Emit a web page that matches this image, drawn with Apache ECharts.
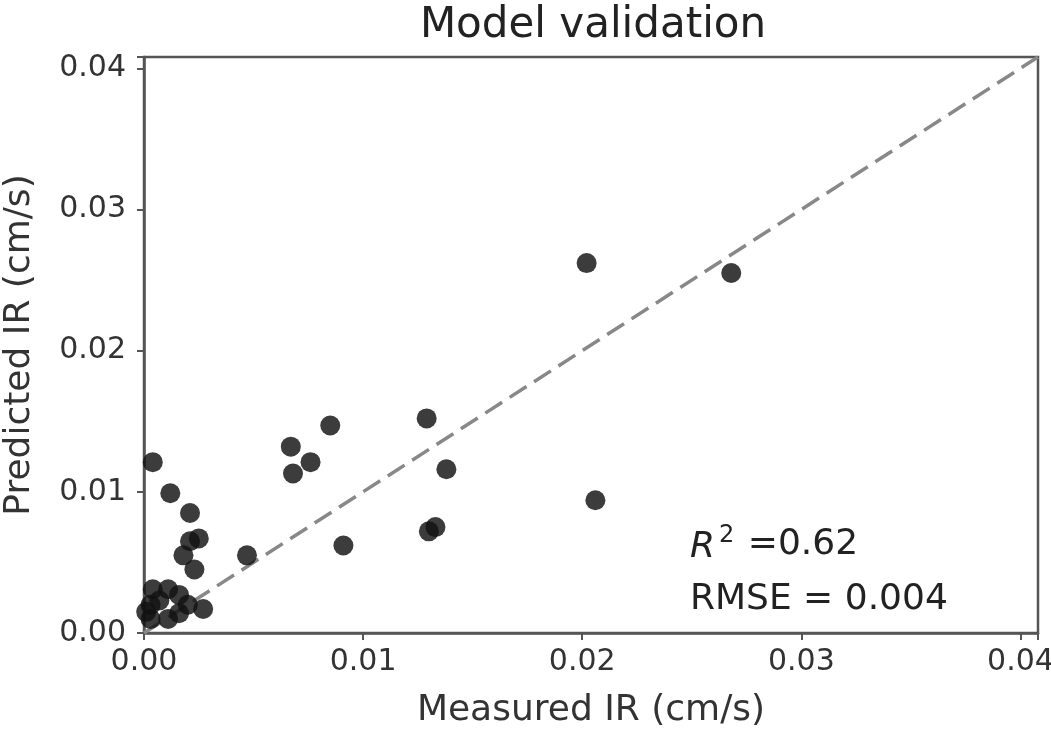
<!DOCTYPE html>
<html>
<head>
<meta charset="utf-8">
<script src="https://cdn.jsdelivr.net/npm/echarts@6/dist/echarts.min.js"></script>
<style>html,body{margin:0;padding:0;background:#fff;}#c{width:1051px;height:736px;}</style>
</head>
<body>
<div id="c"></div>
<script>
const measured = [0.0202, 0.0268, 0.0206, 0.0129, 0.0085, 0.0067, 0.0068, 0.0076, 0.0138, 0.0133, 0.0130, 0.0091, 0.0047,
  0.0004, 0.0012, 0.0021, 0.0025, 0.0021, 0.0018, 0.0023,
  0.0004, 0.0011, 0.0016, 0.0003, 0.0007, 0.0020, 0.0027, 0.0003, 0.0011, 0.0016, 0.0001];
const predicted = [0.0262, 0.0255, 0.0094, 0.0152, 0.0147, 0.0132, 0.0113, 0.0121, 0.0116, 0.0075, 0.0072, 0.0062, 0.0055,
  0.0121, 0.0099, 0.0085, 0.0067, 0.0065, 0.0055, 0.0045,
  0.0031, 0.0031, 0.0027, 0.0020, 0.0023, 0.0020, 0.0017, 0.0010, 0.0010, 0.0014, 0.0015];
const refLine = [[0, 0], [0.0408, 0.0408]];
const axisMin = 0, axisMax = 0.0408, tickStep = 0.01;
const statsR2 = '0.62', statsRMSE = '0.004';

const points = measured.map((m, i) => [m, predicted[i]]);
const font = 'DejaVu Sans';
const tickFmt = v => {
  const k = Math.round(v / tickStep);
  return Math.abs(v - k * tickStep) < 1e-9 ? v.toFixed(2) : '';
};
const axisCommon = {
  type: 'value', min: axisMin, max: axisMax, interval: tickStep,
  splitLine: {show: false},
  axisLine: {show: true, lineStyle: {color: '#555', width: 2.5}},
  axisTick: {show: true, length: 7, lineStyle: {color: '#555', width: 2}},
  axisLabel: {formatter: tickFmt, fontFamily: font, fontSize: 30, color: '#333', margin: 14},
  nameTextStyle: {fontFamily: font, fontSize: 36, color: '#333'},
  nameLocation: 'middle'
};
const chart = echarts.init(document.getElementById('c'));
chart.setOption({
  animation: false,
  backgroundColor: '#fff',
  title: {text: 'Model validation', left: 588, top: 0, textAlign: 'center',
    textStyle: {fontFamily: font, fontSize: 42, fontWeight: 'normal', color: '#222'}},
  grid: {left: 144, right: 13, top: 57, bottom: 103, show: true, borderColor: '#555', borderWidth: 2.5,
    containLabel: false, outerBoundsMode: 'none'},
  xAxis: Object.assign({}, axisCommon, {name: 'Measured IR (cm/s)', nameGap: 60}),
  yAxis: Object.assign({}, axisCommon, {name: 'Predicted IR (cm/s)', nameGap: 106,
    axisLabel: Object.assign({}, axisCommon.axisLabel, {margin: 18})}),
  series: [
    {type: 'line', data: refLine, symbol: 'none', silent: true, z: 1,
      lineStyle: {color: '#888', width: 3.5, type: [20, 9]}},
    {type: 'scatter', data: points, symbolSize: 20, z: 2,
      itemStyle: {color: '#111', opacity: 0.82}}
  ],
  graphic: [
    {type: 'text', left: 690, top: 524, style: {
      text: '{i|R}{s|2} =' + statsR2,
      rich: {
        i: {fontFamily: font, fontStyle: 'italic', fontSize: 36, fill: '#222', verticalAlign: 'bottom'},
        s: {fontFamily: font, fontSize: 24, fill: '#222', verticalAlign: 'top', padding: [0, 2, 18, 4]}
      },
      fontFamily: font, fontSize: 36, fill: '#222'}},
    {type: 'text', left: 690, top: 582, style: {text: 'RMSE = ' + statsRMSE, fontFamily: font, fontSize: 36, fill: '#222'}}
  ]
});
</script>
</body>
</html>
